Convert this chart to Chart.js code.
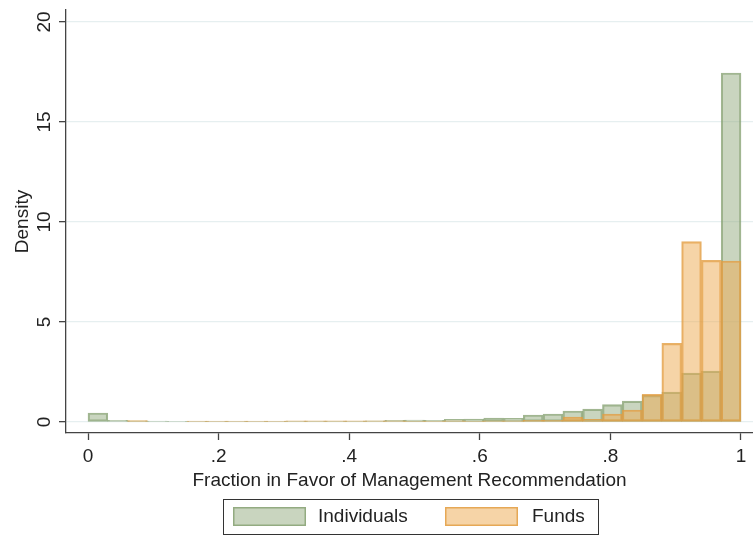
<!DOCTYPE html>
<html>
<head>
<meta charset="utf-8">
<script src="https://cdn.jsdelivr.net/npm/chart.js@4"></script>
<style>
html,body{margin:0;padding:0;background:#fff;}
#wrap{width:753px;height:539px;}
</style>
</head>
<body>
<div id="wrap"><canvas id="hist" width="753" height="539"></canvas></div>
<script>
/* DATA */
const binCount=33;
const binCenters=Array.from({length:binCount},(_,i)=>(i+0.5)/binCount);
const individuals=[0.45,0.08,0.06,0.05,0.03,0.03,0.03,0.03,0.03,0.03,0.04,0.04,0.04,0.05,0.06,0.08,0.10,0.08,0.13,0.14,0.20,0.18,0.35,0.40,0.55,0.64,0.87,1.04,1.33,1.49,2.44,2.54,17.45];
const funds=[0,0,0.07,0,0,0.04,0.05,0.05,0.05,0.05,0.06,0.06,0.06,0.06,0.06,0.06,0.05,0.05,0.06,0.05,0.06,0.06,0.08,0.08,0.25,0.13,0.40,0.60,1.38,3.93,9.02,8.08,8.05];
const xTicks=[0,0.2,0.4,0.6,0.8,1];
const xTickLabels=["0",".2",".4",".6",".8","1"];
const yTicks=[0,5,10,15,20];
const seriesNames=["Individuals","Funds"];

const greenFill="rgba(147,171,127,0.5)";
const greenLine="rgba(130,158,108,0.75)";
const orangeFill="rgba(238,170,80,0.5)";
const orangeLine="rgba(226,158,66,0.8)";
const axisCol="#444";
const FONT="'Liberation Sans', Arial, Helvetica, sans-serif";

/* rotated y labels + boxed legend */
const extras={
id:"extras",
afterDraw(chart){
const ctx=chart.ctx;
const y=chart.scales.y;
ctx.save();
ctx.fillStyle="#222";
ctx.font="19px "+FONT;
ctx.textAlign="center";
ctx.textBaseline="middle";
yTicks.forEach(v=>{
ctx.save();
ctx.translate(45,y.getPixelForValue(v));
ctx.rotate(-Math.PI/2);
ctx.fillText(String(v),0,0);
ctx.restore();
});

/* legend */
ctx.strokeStyle="#333";
ctx.lineWidth=1;
ctx.strokeRect(223.5,499.5,375,35);
const sw=[[233,greenFill,greenLine],[445,orangeFill,orangeLine]];
sw.forEach((s,i)=>{
ctx.fillStyle=s[1];
ctx.fillRect(s[0],507,73,19);
ctx.strokeStyle=s[2];
ctx.lineWidth=1.5;
ctx.strokeRect(s[0]+0.75,507.75,71.5,17.5);
});
ctx.fillStyle="#222";
ctx.font="19px "+FONT;
ctx.textAlign="left";
ctx.fillText(seriesNames[0],318,517);
ctx.fillText(seriesNames[1],532,517);
ctx.restore();
}
};

new Chart(document.getElementById("hist"),{
type:"bar",
data:{
datasets:[{
label:seriesNames[0],
data:binCenters.map((x,i)=>({x:x,y:individuals[i]})),
backgroundColor:greenFill,
borderColor:greenLine,
borderWidth:1.5,
borderSkipped:false,
order:2
},{
label:seriesNames[1],
data:binCenters.map((x,i)=>({x:x,y:funds[i]})),
backgroundColor:orangeFill,
borderColor:orangeLine,
borderWidth:1.5,
borderSkipped:false,
order:1
}]
},
plugins:[extras],
options:{
responsive:false,
animation:false,
devicePixelRatio:1,
layout:{padding:{top:10,right:0,bottom:40,left:0}},
datasets:{bar:{barPercentage:1,categoryPercentage:1,grouped:false}},
plugins:{legend:{display:false},tooltip:{enabled:false}},
scales:{
x:{
type:"linear",
offset:false,
min:-0.0337,
max:1.0184,
afterBuildTicks:s=>{s.ticks=xTicks.map(v=>({value:v}));},
afterFit:s=>{s.height=66;},
grid:{offset:false,drawOnChartArea:false,tickLength:7,tickColor:axisCol,tickWidth:1.3},
border:{color:axisCol,width:1.3},
ticks:{
color:"#222",
font:{family:FONT,size:19},
padding:5,
maxRotation:0,
callback:(v)=>{const k=xTicks.findIndex(t=>Math.abs(t-v)<1e-6);return k<0?"":xTickLabels[k];}
},
title:{display:true,text:"Fraction in Favor of Management Recommendation",color:"#222",font:{family:FONT,size:19},padding:{top:0,bottom:7}}
},
y:{
min:-0.551,
max:20.6,
afterBuildTicks:s=>{s.ticks=yTicks.map(v=>({value:v}));},
afterFit:s=>{s.width=66;},
grid:{color:"#e6eff0",lineWidth:1.3,tickLength:7,tickColor:axisCol,tickWidth:1.3},
border:{color:axisCol,width:1.3},
ticks:{display:false},
title:{display:true,text:"Density",color:"#222",font:{family:FONT,size:19},padding:{top:11,bottom:0}}
}
}
}
});
</script>
</body>
</html>
